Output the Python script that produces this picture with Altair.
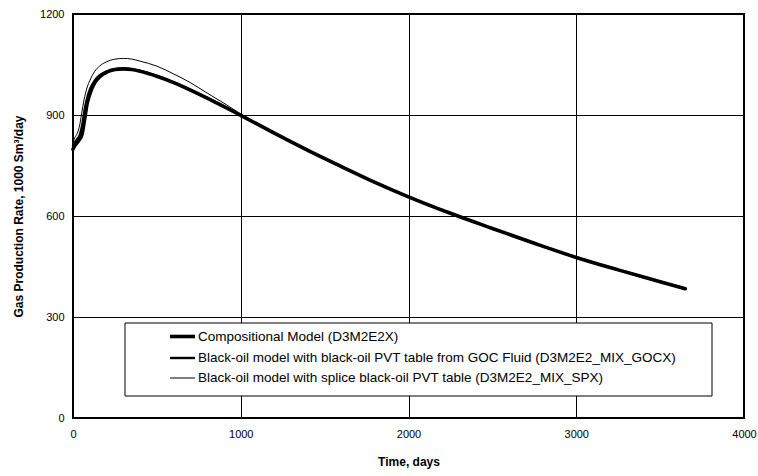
import altair as alt
import pandas as pd

# Simulation time (days) and gas production rate (1000 Sm3/day) for each run
time_days = [0, 10, 25, 40, 55, 70, 85, 100, 130, 160, 200, 250, 300, 350, 400,
             500, 600, 700, 800, 900, 1000, 1200, 1400, 1600, 1800, 2000, 2250,
             2500, 2750, 3000, 3250, 3500, 3650]

compositional = [798, 808, 818, 828, 845, 890, 935, 962, 996, 1014, 1027, 1035,
                 1037, 1035, 1030, 1015, 996, 974, 950, 925, 899, 846, 795, 747,
                 700, 657, 608, 563, 519, 477, 440, 405, 384]

blackoil_goc = [808, 818, 828, 840, 870, 918, 952, 975, 1003, 1018, 1029, 1036,
                1038, 1036, 1031, 1016, 997, 975, 951, 926, 900, 846, 795, 747,
                700, 657, 608, 563, 519, 477, 440, 405, 384]

blackoil_splice = [820, 832, 845, 870, 915, 955, 983, 1002, 1030, 1046, 1058,
                   1066, 1068, 1066, 1060, 1045, 1022, 996, 965, 935, 903, 845,
                   794, 746, 699, 656, 607, 562, 518, 476, 439, 404, 383]

series_names = [
    "Compositional Model (D3M2E2X)",
    "Black-oil model with black-oil PVT table from GOC Fluid (D3M2E2_MIX_GOCX)",
    "Black-oil model with splice black-oil PVT table (D3M2E2_MIX_SPX)",
]
series_values = [compositional, blackoil_goc, blackoil_splice]
series_widths = [3.6, 2.4, 1]

rows = []
for name, vals in zip(series_names, series_values):
    for t, v in zip(time_days, vals):
        rows.append({"series": name, "time": t, "rate": v})
df = pd.DataFrame(rows)

FONT = "Liberation Sans"

legend_opts = dict(title=None, orient="none", legendX=95, legendY=308,
                   symbolType="stroke", symbolSize=625, rowPadding=0,
                   labelFontSize=13.5, labelFont=FONT, labelColor="black",
                   labelOffset=1, labelLimit=700, padding=0)

x_enc = alt.X("time:Q", scale=alt.Scale(domain=[0, 4000], nice=False),
              axis=alt.Axis(title="Time, days", values=[0, 1000, 2000, 3000, 4000],
                            format="d", grid=True, ticks=False, domain=False,
                            labelFlush=False, labelPadding=10, titlePadding=17))
y_enc = alt.Y("rate:Q", scale=alt.Scale(domain=[0, 1200], nice=False),
              axis=alt.Axis(title="Gas Production Rate, 1000 Sm³/day",
                            values=[0, 300, 600, 900, 1200], format="d",
                            grid=True, ticks=False, domain=False,
                            labelFlush=False, labelPadding=9, titlePadding=14))

lines = alt.Chart(df).mark_line(interpolate="monotone", strokeCap="round").encode(
    x=x_enc,
    y=y_enc,
    color=alt.Color("series:N", sort=series_names,
                    scale=alt.Scale(domain=series_names,
                                    range=["black", "black", "black"]),
                    legend=alt.Legend(**legend_opts)),
    strokeWidth=alt.StrokeWidth("series:N", sort=series_names,
                                scale=alt.Scale(type="ordinal",
                                                domain=series_names,
                                                range=series_widths),
                                legend=alt.Legend(**legend_opts)),
)

# Framed box behind the legend entries
legend_box = alt.Chart(pd.DataFrame({"k": [0]})).mark_rect(
    fill="white", stroke="black", strokeWidth=1
).encode(x=alt.value(52), x2=alt.value(639), y=alt.value(309), y2=alt.value(382))

chart = alt.layer(lines, legend_box).properties(
    width=671, height=404,
    autosize=alt.AutoSizeParams(type="none"),
    padding={"left": 73, "top": 14, "right": 14, "bottom": 58},
    background="white",
).configure_view(
    stroke="black", strokeWidth=2
).configure_axis(
    gridColor="black", gridWidth=1, gridOpacity=1,
    labelFont=FONT, labelFontSize=11, labelColor="black",
    titleFont=FONT, titleFontSize=12, titleFontWeight="bold", titleColor="black",
)

chart.save("out.html", embed_options={"renderer": "svg", "actions": False})
